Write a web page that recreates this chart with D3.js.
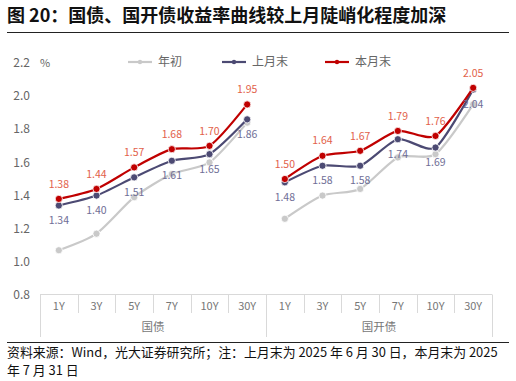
<!DOCTYPE html>
<html><head><meta charset="utf-8">
<script src="https://cdn.jsdelivr.net/npm/d3@7/dist/d3.min.js"></script>
<style>body{margin:0;background:#fff;}svg{display:block;font-family:"Noto Sans CJK SC","Noto Sans",sans-serif;}</style>
</head><body><div id="c"></div>
<script>
const groups = ["国债", "国开债"];
const tenors = ["1Y", "3Y", "5Y", "7Y", "10Y", "30Y"];
const seriesNames = ["年初", "上月末", "本月末"];
const yearStart = [[1.07, 1.17, 1.39, 1.53, 1.60, 1.84], [1.26, 1.40, 1.44, 1.63, 1.65, 1.95]];
const lastMonth = [[1.34, 1.40, 1.51, 1.61, 1.65, 1.86], [1.48, 1.58, 1.58, 1.74, 1.69, 2.04]];
const thisMonth = [[1.38, 1.44, 1.57, 1.68, 1.70, 1.95], [1.50, 1.64, 1.67, 1.79, 1.76, 2.05]];
const yTicks = [0.8, 1.0, 1.2, 1.4, 1.6, 1.8, 2.0, 2.2];

const W = 516, H = 381;
const svg = d3.select("#c").append("svg").attr("width", W).attr("height", H);

// title
svg.append("text").attr("x", 7).attr("y", 22).attr("font-size", 18).attr("font-weight", "bold")
  .attr("fill", "#111").text("图 20：国债、国开债收益率曲线较上月陡峭化程度加深");
svg.append("line").attr("x1", 7).attr("x2", 509).attr("y1", 32.5).attr("y2", 32.5).attr("stroke", "#222").attr("stroke-width", 1);

const x0 = 40, x1 = 492;
const keys = [];
groups.forEach((g, gi) => tenors.forEach((t, ti) => keys.push(gi + "-" + ti)));
const x = d3.scaleBand().domain(keys).range([x0, x1]);
const y = d3.scaleLinear().domain([0.8, 2.2]).range([295, 63]);

// y axis labels
svg.append("g").selectAll("text").data(yTicks).join("text")
  .attr("x", 30).attr("y", d => y(d)).attr("dy", "0.35em").attr("text-anchor", "end")
  .attr("font-size", 12).attr("fill", "#666").text(d => d.toFixed(1));
svg.append("text").attr("x", 40).attr("y", y(2.2)).attr("dy", "0.35em").attr("font-size", 11).attr("fill", "#666").text("%");

// x axis
const axisY = 294.5;
svg.append("line").attr("x1", x0).attr("x2", x1).attr("y1", axisY).attr("y2", axisY).attr("stroke", "#d9d9d9");
const bounds = keys.map(k => x(k)).concat([x1]);
svg.append("g").selectAll("line").data(bounds).join("line")
  .attr("x1", d => Math.round(d) + 0.5).attr("x2", d => Math.round(d) + 0.5)
  .attr("y1", axisY).attr("y2", (d, i) => (i % 6 === 0) ? 337 : 313)
  .attr("stroke", "#d9d9d9");
svg.append("g").selectAll("text").data(keys).join("text")
  .attr("x", d => x(d) + x.bandwidth() / 2).attr("y", 306).attr("dy", "0.35em")
  .attr("text-anchor", "middle").attr("font-size", 11).attr("fill", "#777")
  .text(d => tenors[+d.split("-")[1]]);
svg.append("g").selectAll("text").data(groups).join("text")
  .attr("x", (d, i) => (x(i + "-0") + x(i + "-5") + x.bandwidth()) / 2).attr("y", 327).attr("dy", "0.35em")
  .attr("text-anchor", "middle").attr("font-size", 11.5).attr("fill", "#777").text(d => d);

// series
const series = [
  {name: seriesNames[0], data: yearStart, color: "#c9c9c9", labelColor: null},
  {name: seriesNames[1], data: lastMonth, color: "#4c4a73", labelColor: "#6f6e96", below: true},
  {name: seriesNames[2], data: thisMonth, color: "#c00000", labelColor: "#e2614a", below: false}
];
const line = d3.line().curve(d3.curveCardinal.tension(0.3)).x(d => d[0]).y(d => d[1]);
series.forEach(s => {
  s.data.forEach((vals, gi) => {
    const pts = vals.map((v, ti) => [x(gi + "-" + ti) + x.bandwidth() / 2, y(v)]);
    svg.append("path").attr("d", line(pts)).attr("fill", "none").attr("stroke", s.color).attr("stroke-width", 2.2);
    svg.append("g").selectAll("circle").data(pts).join("circle")
      .attr("cx", d => d[0]).attr("cy", d => d[1]).attr("r", 3.6).attr("fill", s.color)
      .attr("stroke", "#fff").attr("stroke-width", 0.8);
  });
});
series.forEach(s => {
  if (!s.labelColor) return;
  s.data.forEach((vals, gi) => {
    svg.append("g").selectAll("text").data(vals).join("text")
      .attr("x", (d, ti) => x(gi + "-" + ti) + x.bandwidth() / 2)
      .attr("y", d => y(d) + (s.below ? 15 : -15)).attr("dy", "0.35em")
      .attr("text-anchor", "middle").attr("font-size", 10.5).attr("fill", s.labelColor)
      .text(d => d.toFixed(2));
  });
});

// legend
const legX = [128, 222, 325];
series.forEach((s, i) => {
  const g = svg.append("g").attr("transform", `translate(${legX[i]},62)`);
  g.append("line").attr("x1", 0).attr("x2", 24).attr("stroke", s.color).attr("stroke-width", 2.2);
  g.append("circle").attr("cx", 12).attr("r", 2.2).attr("fill", s.color);
  g.append("text").attr("x", 30).attr("dy", "0.35em").attr("font-size", 12).attr("fill", "#666").text(s.name);
});

// footer
svg.append("line").attr("x1", 7).attr("x2", 509).attr("y1", 342.5).attr("y2", 342.5).attr("stroke", "#222");
svg.append("text").attr("x", 7).attr("y", 357).attr("font-size", 12.9).attr("fill", "#111")
  .text("资料来源：Wind，光大证券研究所；注：上月末为 2025 年 6 月 30 日，本月末为 2025");
svg.append("text").attr("x", 7).attr("y", 375).attr("font-size", 12.9).attr("fill", "#111")
  .text("年 7 月 31 日");
</script></body></html>
